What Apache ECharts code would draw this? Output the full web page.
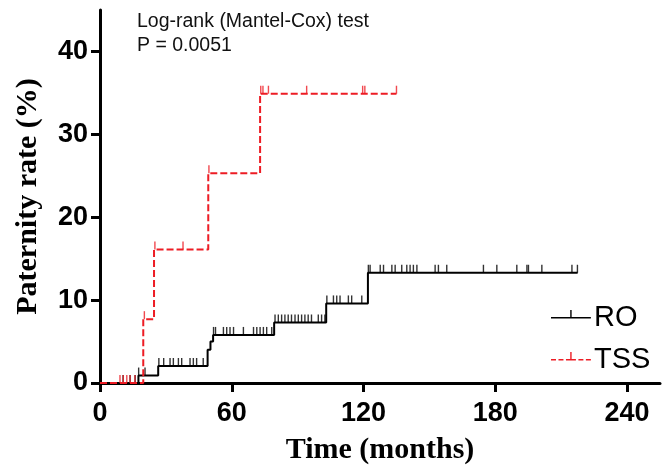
<!DOCTYPE html>
<html>
<head>
<meta charset="utf-8">
<script src="https://cdn.jsdelivr.net/npm/echarts@6/dist/echarts.min.js"></script>
<style>html,body{margin:0;padding:0;background:#fff;}#c{width:672px;height:473px;}</style>
</head>
<body>
<div id="c"></div>
<script>
// Step curves (time in months, paternity rate %)
const roSteps = [[0,0],[17.5,0.9],[26.5,2.05],[49,4.0],[50.3,5.0],[51.5,5.8],[79.3,7.3],[103,9.6],[122,13.3],[217.5,13.3]];
const tssSteps = [[0,0],[19.7,7.7],[24.6,16.1],[49.3,25.3],[72.9,34.9],[135,34.9]];
// Censored observations
const roCensor = [
  [10.5,0],[13.7,0],[16,0],
  [17.6,0.9],[20.5,0.9],
  [26.8,2.05],[29,2.05],[31.9,2.05],[33.4,2.05],[35.7,2.05],[37.2,2.05],[41,2.05],[42.5,2.05],[44,2.05],[47,2.05],
  [51.7,5.8],[52.6,5.8],[56.2,5.8],[57.7,5.8],[59.2,5.8],[60.8,5.8],[65.3,5.8],[69.9,5.8],[71.4,5.8],[72.9,5.8],[74.4,5.8],[75.9,5.8],[78.2,5.8],
  [79.7,7.3],[81.2,7.3],[82.7,7.3],[84.2,7.3],[85.7,7.3],[87.2,7.3],[88.8,7.3],[90.3,7.3],[91.8,7.3],[93.3,7.3],[94.8,7.3],[96.3,7.3],[99.4,7.3],[100.9,7.3],[102.4,7.3],
  [103.3,9.6],[106.3,9.6],[107.8,9.6],[109.3,9.6],[113.1,9.6],[114.6,9.6],[119.2,9.6],
  [122.2,13.3],[123,13.3],[127.6,13.3],[129.1,13.3],[132.9,13.3],[134.4,13.3],[137.4,13.3],[139.7,13.3],[141.2,13.3],[142.7,13.3],[144.3,13.3],[152.6,13.3],[154.1,13.3],[157.9,13.3],[174.6,13.3],[180.7,13.3],[189.8,13.3],[194.4,13.3],[195.1,13.3],[201.2,13.3],[214.9,13.3],[217.4,13.3]
];
const tssCensor = [
  [9.1,0],[10.6,0],[12.2,0],[13.7,0],[15.9,0],
  [20.2,7.7],
  [25,16.1],[37.8,16.1],
  [49.6,25.3],
  [73.2,34.9],[74.2,34.9],[76.7,34.9],[94.1,34.9],[119.6,34.9],[120.6,34.9],[135,34.9]
];
const xTicks = [0,60,120,180,240];
const yTicks = [0,10,20,30,40];
const seriesNames = ['RO','TSS'];
const annotation = ['Log-rank (Mantel-Cox) test','P = 0.0051'];

const RED = '#ed1c24';
const chart = echarts.init(document.getElementById('c'), null, {renderer:'canvas'});
const roIcon = 'path://M0,7 L40,7 L40,8.6 L0,8.6 Z M19.3,0 L20.7,0 L20.7,7 L19.3,7 Z M0,15 L0.05,15 L0.05,15.05 L0,15.05 Z';
const tssIcon = 'path://M0,7 L5,7 L5,8.6 L0,8.6 Z M7.5,7 L12.5,7 L12.5,8.6 L7.5,8.6 Z M15,7 L25,7 L25,8.6 L15,8.6 Z M27.5,7 L32.5,7 L32.5,8.6 L27.5,8.6 Z M35,7 L40,7 L40,8.6 L35,8.6 Z M19.3,0 L20.7,0 L20.7,7 L19.3,7 Z M0,15 L0.05,15 L0.05,15.05 L0,15.05 Z';

chart.setOption({
  animation:false,
  backgroundColor:'#fff',
  grid:{left:100,right:12,top:10,bottom:90},
  xAxis:{
    type:'value',min:0,max:255,
    name:'Time (months)',nameLocation:'middle',nameGap:52,
    nameTextStyle:{fontFamily:'Liberation Serif',fontWeight:'bold',fontSize:30,color:'#000'},
    axisLine:{show:true,onZero:false,lineStyle:{color:'#000',width:3}},
    axisTick:{show:true,length:9,lineStyle:{color:'#000',width:3},customValues:xTicks},
    axisLabel:{color:'#000',fontFamily:'Liberation Sans',fontWeight:'bold',fontSize:27,margin:17,customValues:xTicks},
    splitLine:{show:false}
  },
  yAxis:{
    type:'value',min:0,max:45,
    name:'Paternity rate (%)',nameLocation:'middle',nameGap:57,
    nameTextStyle:{fontFamily:'Liberation Serif',fontWeight:'bold',fontSize:30,color:'#000'},
    axisLine:{show:true,onZero:false,lineStyle:{color:'#000',width:3}},
    axisTick:{show:true,length:9,lineStyle:{color:'#000',width:3},customValues:yTicks},
    axisLabel:{color:'#000',fontFamily:'Liberation Sans',fontWeight:'bold',fontSize:27,margin:12,customValues:yTicks},
    splitLine:{show:false}
  },
  legend:{
    orient:'vertical',left:546,top:298,itemWidth:40,itemHeight:15,itemGap:13,
    selectedMode:false,
    textStyle:{fontFamily:'Liberation Sans',fontSize:29,color:'#000',padding:[0,0,0,-2]},
    data:[{name:seriesNames[0],icon:roIcon},{name:seriesNames[1],icon:tssIcon}]
  },
  graphic:[
    {type:'text',left:137,top:12,style:{text:annotation[0],font:'19.5px "Liberation Sans"',fill:'#111'}},
    {type:'text',left:137,top:36,style:{text:annotation[1],font:'19.5px "Liberation Sans"',fill:'#111'}}
  ],
  series:[
    {name:seriesNames[0],type:'line',step:'end',data:roSteps,showSymbol:false,symbol:'none',
     lineStyle:{color:'#000',width:2},itemStyle:{color:'#000'},silent:true,z:3},
    {name:seriesNames[1],type:'line',step:'end',data:tssSteps,showSymbol:false,symbol:'none',
     lineStyle:{color:RED,width:2,type:[7,3]},itemStyle:{color:RED},silent:true,z:4},
    {name:seriesNames[0]+'-censor',type:'scatter',data:roCensor,symbol:'rect',symbolSize:[1.4,8],symbolOffset:[0,'-50%'],
     itemStyle:{color:'#000'},silent:true,z:3},
    {name:seriesNames[1]+'-censor',type:'scatter',data:tssCensor,symbol:'rect',symbolSize:[1.4,8],symbolOffset:[0,'-50%'],
     itemStyle:{color:RED},silent:true,z:4}
  ]
});
</script>
</body>
</html>
